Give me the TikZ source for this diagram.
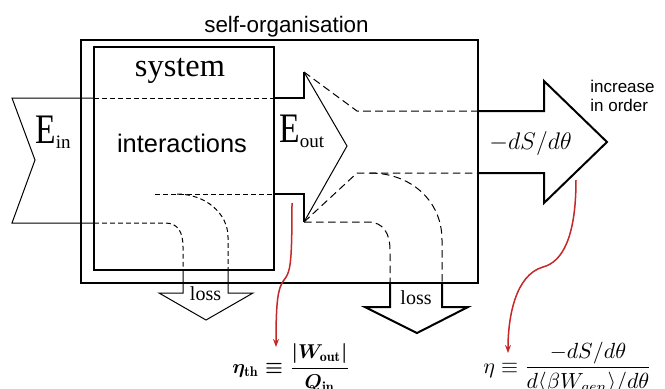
\documentclass[tikz,border=0pt]{standalone}
\usepackage{amsmath}
\usepackage{fontspec}
\newfontfamily\timesf{Liberation Serif}
\newfontfamily\helvf{Liberation Sans}
\usetikzlibrary{arrows.meta}
\definecolor{annotred}{RGB}{196,40,40}
\newcommand{\Elabel}[1]{{\timesf\fontsize{21}{21}\selectfont\scalebox{0.8}[1]{E}\raisebox{-2.5pt}{\fontsize{9.5}{10}\selectfont #1}}}
\tikzset{
  thinline/.style={line width=0.5pt},
  thickline/.style={line width=1pt},
  shortdash/.style={line width=0.5pt,dash pattern=on 2.4pt off 1.6pt},
  longdash/.style={line width=0.5pt,dash pattern=on 3.8pt off 2.2pt},
  annot/.style={annotred,line width=0.75pt,-{Stealth[length=4pt,width=3pt]}},
}
\begin{document}
\begin{tikzpicture}[x=0.5pt,y=-0.5pt]
	\useasboundingbox (0,0) rectangle (665,388);
	% boxes
	\draw[line width=0.8pt] (81,40) rectangle (478,283);
	\draw[line width=1.2pt] (94,47) rectangle (274,270);
	\node[anchor=base,inner sep=0] (selforg) at (286.5,32) {\helvf\fontsize{11.2}{13}\selectfont self-organisation};
	\node[anchor=base,inner sep=0] (system) at (180,76) {\timesf\fontsize{16.2}{18}\selectfont system};
	\node[anchor=base,inner sep=0] (inter) at (182,152) {\helvf\fontsize{12.7}{14}\selectfont interactions};
	% energy in
	\draw[thinline] (94,98) -- (12,98) -- (35,160) -- (12,223) -- (94,223);
	\draw[shortdash] (94,98) -- (274,98);
	\draw[shortdash] (94,223) -- (165,223) .. controls (178,223) and (183,232) .. (183,247) -- (183,270);
	\draw[shortdash] (155,194) -- (274,194);
	\draw[shortdash] (177,194) .. controls (205,194) and (228,213) .. (228,237) -- (228,270);
	\node[anchor=base west,inner sep=0] (ein) at (35,143) {\Elabel{in}};
	% first loss
	\draw[thinline] (183,270) -- (183,293) -- (159,293) -- (206,320) -- (253,293) -- (228,293) -- (228,270);
	\node[anchor=base,inner sep=0] (lossa) at (205.5,300) {\timesf\fontsize{10}{12}\selectfont loss};
	% energy out
	\draw[thickline] (274,98) -- (304,98) -- (304,72);
	\draw[thickline] (274,194) -- (304,194) -- (304,222);
	\draw[thinline] (304,72) -- (347,146) -- (304,222);
	\node[anchor=base west,inner sep=0] (eout) at (279,142) {\Elabel{out}};
	\draw[longdash] (304,72) -- (357,111) -- (478,111);
	\draw[longdash] (304,222) -- (357,173) -- (478,173);
	\draw[longdash] (304,222) -- (368,222) .. controls (383,222) and (390,233) .. (390,250) -- (390,283);
	\draw[longdash] (370,173) .. controls (410,173) and (442,200) .. (442,240) -- (442,283);
	% second loss
	\draw[thickline] (390,283) -- (390,307) -- (365,307) -- (417,333) -- (468,307) -- (442,307) -- (442,283);
	\node[anchor=base,inner sep=0] (lossb) at (416,304) {\timesf\fontsize{10}{12}\selectfont loss};
	% order
	\draw[thickline] (478,111) -- (544,111) -- (544,81) -- (607,142) -- (544,203) -- (544,173) -- (478,173);
	\node[anchor=base,inner sep=0] (dsdt) at (530.5,149) {\fontsize{12.5}{14}\selectfont$-dS/d\theta$};
	\node[anchor=north west,inner sep=0,align=left,font={\helvf\fontsize{8.5}{9.5}\selectfont}] (order) at (590,80) {increase\\in order};
	% efficiencies
	\node[anchor=west,inner sep=0] (etath) at (232,368) {\fontsize{10}{12}\selectfont{\boldmath$\eta_{\mathrm{th}}\equiv\dfrac{|W_{\mathrm{out}}|}{Q_{\mathrm{in}}}$}};
	\node[anchor=west,inner sep=0] (eta) at (483,368) {\fontsize{10.5}{12}\selectfont$\eta\equiv\dfrac{-dS/d\theta}{d\langle\beta W_{gen}\rangle/d\theta}$};
	\coordinate (tha) at (292,203);
	\coordinate (thb) at (276,347);
	\coordinate (eoa) at (576,180);
	\coordinate (eob) at (508,353);
	\draw[annot] (tha) .. controls (292,268) and (290,272) .. (284,280) .. controls (278,288) and (276,300) .. (thb);
	\draw[annot] (eoa) .. controls (576,238) and (562,262) .. (543,267) .. controls (515,275) and (508,318) .. (eob);
\end{tikzpicture}
\end{document}
